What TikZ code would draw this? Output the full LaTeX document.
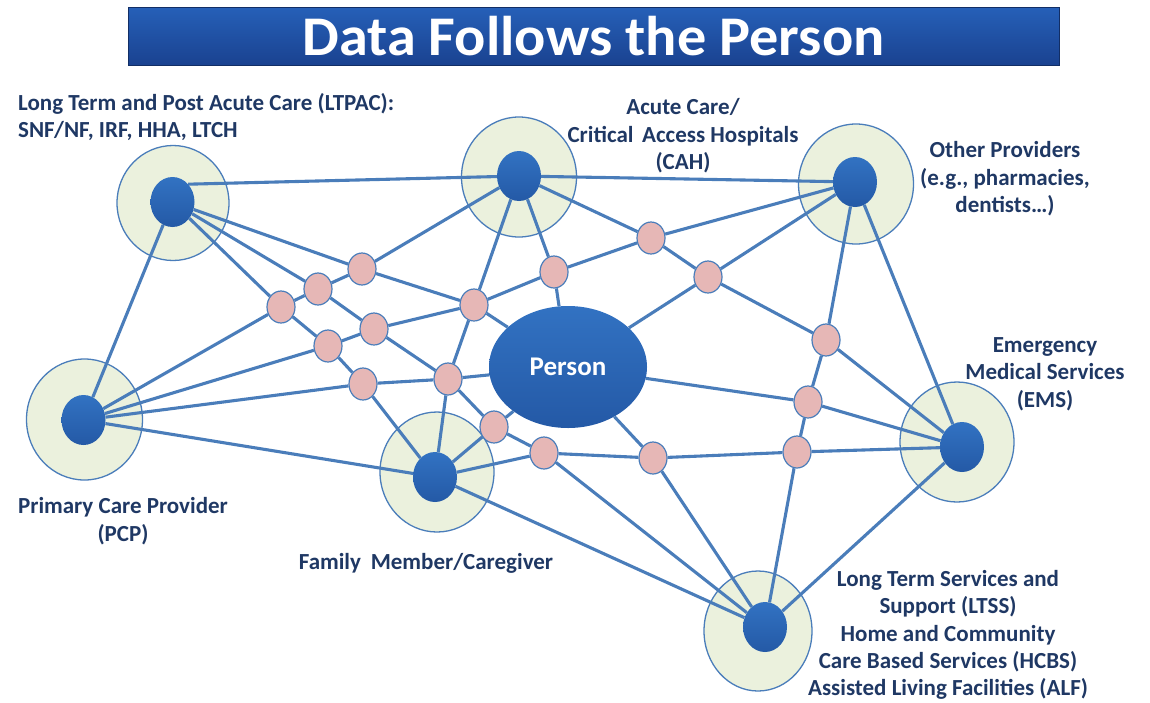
\documentclass[tikz,border=0pt]{standalone}
\usepackage{fontspec}
\setmainfont{Carlito}
\usetikzlibrary{shapes.geometric}
\pgfdeclarelayer{bg}
\pgfdeclarelayer{edges}
\pgfsetlayers{bg,edges,main}
\definecolor{lineblue}{HTML}{4A7DBA}
\definecolor{ringfill}{HTML}{EBF1DD}
\definecolor{hubfill}{HTML}{3272C2}
\definecolor{hubdark}{HTML}{2459A6}
\definecolor{pinkfill}{HTML}{E6B7B6}
\definecolor{labelnavy}{HTML}{1F3864}
\definecolor{titletop}{HTML}{2660B8}
\definecolor{titlebot}{HTML}{1A4290}
\tikzset{
  ring/.style={ellipse, draw=lineblue, line width=1.3pt, fill=ringfill, inner sep=0pt},
  hub/.style={ellipse, top color=hubfill, bottom color=hubdark, inner sep=0pt, minimum width=44pt, minimum height=50pt},
  pinkdot/.style={ellipse, draw=lineblue, line width=1.2pt, fill=pinkfill, inner sep=0pt, minimum width=28pt, minimum height=32pt},
  edge/.style={draw=lineblue, line width=3.1pt},
  lbl/.style={text=labelnavy, font=\bfseries\fontsize{23}{27.4}\selectfont, align=center, inner sep=0pt},
}
\begin{document}
\begin{tikzpicture}[x=1pt,y=-1pt]
\useasboundingbox (0,0) rectangle (1150,702);
% title
\node[rectangle, draw=titlebot!70!black, line width=0.8pt, top color=titletop, bottom color=titlebot,
      minimum width=931pt, minimum height=58pt, inner sep=0pt, text=white,
      font=\bfseries\fontsize{56}{60}\selectfont] (title) at (593.5,36) {\scalebox{1.04}[1]{Data Follows the Person}};
% hubs
\node[hub] (L) at (172.5,202) {};
\node[hub] (A) at (519,176) {};
\node[hub] (O) at (855,182) {};
\node[hub] (P) at (83.5,420) {};
\node[hub] (F) at (435,477) {};
\node[hub] (E) at (962,447) {};
\node[hub] (T) at (765,627) {};
% person
\node[ellipse, top color=hubfill, bottom color=hubdark, inner sep=0pt, minimum width=158pt, minimum height=122pt,
      text=white, font=\bfseries\fontsize{27}{30}\selectfont] (X) at (568,367) {Person};
% pinks
\node[pinkdot] (a) at (362,269) {};
\node[pinkdot] (b) at (318,289) {};
\node[pinkdot] (c) at (281,307) {};
\node[pinkdot] (d) at (474,305) {};
\node[pinkdot] (e) at (554,272) {};
\node[pinkdot] (f) at (374,329) {};
\node[pinkdot] (g) at (328,346) {};
\node[pinkdot] (h) at (363,384) {};
\node[pinkdot] (i) at (448,379) {};
\node[pinkdot] (j) at (494,427) {};
\node[pinkdot] (k) at (544,453) {};
\node[pinkdot] (m) at (651,238) {};
\node[pinkdot] (n) at (708,277) {};
\node[pinkdot] (o) at (826,340) {};
\node[pinkdot] (q) at (808,402) {};
\node[pinkdot] (r) at (797,452) {};
\node[pinkdot] (s) at (653,458) {};
% rings
\begin{pgfonlayer}{bg}
\node[ring, minimum width=112pt, minimum height=115pt] (Lring) at (173,203) {};
\node[ring, minimum width=115pt, minimum height=120pt] (Aring) at (519,177) {};
\node[ring, minimum width=115pt, minimum height=120pt] (Oring) at (856,184) {};
\node[ring, minimum width=116pt, minimum height=121pt] (Pring) at (84.5,419.5) {};
\node[ring, minimum width=114pt, minimum height=120pt] (Fring) at (437,472) {};
\node[ring, minimum width=114pt, minimum height=120pt] (Ering) at (957,442) {};
\node[ring, minimum width=108pt, minimum height=120pt] (Tring) at (758,631) {};
\end{pgfonlayer}
% connectors
\begin{pgfonlayer}{edges}
\path[edge] (L.north east)--(A) (A)--(O) (L)--(P) (P)--(F) (O)--(E) (E)--(T) (F)--(T)
  (L)--(a) (a)--(d) (d)--(X)
  (L)--(b) (b)--(f) (f)--(i) (i)--(j) (j)--(k) (k)--(T)
  (L)--(c) (c)--(g) (g)--(h) (h)--(F)
  (P)--(c) (c)--(b) (b)--(a) (a)--(A)
  (P)--(g) (g)--(f) (f)--(d) (d)--(e) (e)--(m) (m)--(O)
  (P)--(h) (h)--(i) (i)--(X)
  (A)--(d) (d)--(i) (i)--(F)
  (A)--(e) (e)--(X)
  (A)--(m) (m)--(n) (n)--(o) (o)--(E)
  (X)--(n) (n)--(O)
  (O)--(o) (o)--(q) (q)--(r) (r)--(T)
  (X)--(q) (q)--(E)
  (F)--(k) (k)--(s) (s)--(r) (r)--(E)
  (X)--(s) (s)--(T)
  (X)--(j) (j)--(F);
\end{pgfonlayer}
% labels
\node[lbl, align=left, anchor=west] (Llab) at (18,117) {Long Term and Post Acute Care (LTPAC):\\SNF/NF, IRF, HHA, LTCH};
\node[lbl] (Alab) at (683,136) {Acute Care/\\Critical\hspace{0.15em} Access Hospitals\\(CAH)};
\node[lbl] (Olab) at (1005,179) {Other Providers\\(e.g., pharmacies,\\dentists…)};
\node[lbl] (Elab) at (1045,374) {Emergency\\Medical Services\\(EMS)};
\node[lbl] (Plab) at (123,521) {Primary Care Provider\\(PCP)};
\node[lbl] (Flab) at (426,563) {Family\hspace{0.2em} Member/Caregiver};
\node[lbl] (Tlab) at (948,635) {Long Term Services and\\Support (LTSS)\\Home and Community\\Care Based Services (HCBS)\\Assisted Living Facilities (ALF)};
\end{tikzpicture}
\end{document}
